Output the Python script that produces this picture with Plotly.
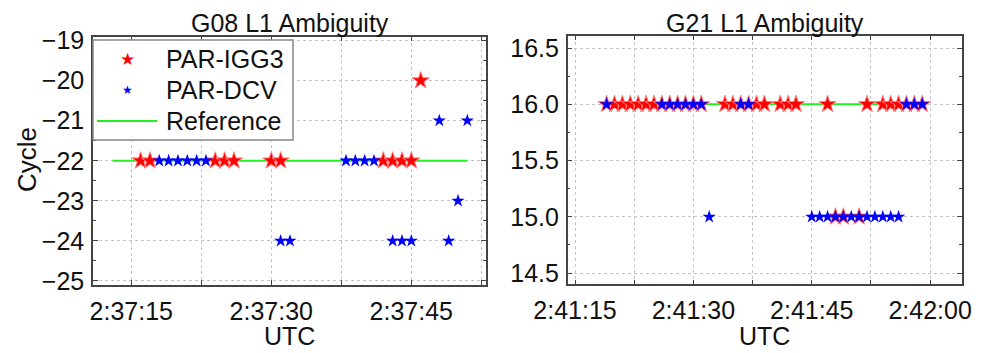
import plotly.graph_objects as go

# ---------------- data ----------------
# G08 (left panel)
g08_igg3_times = ["2:37:16", "2:37:17", "2:37:24", "2:37:25", "2:37:26",
                  "2:37:30", "2:37:31", "2:37:42", "2:37:43", "2:37:44",
                  "2:37:45", "2:37:46"]
g08_igg3_vals = [-22, -22, -22, -22, -22, -22, -22, -22, -22, -22, -22, -20]

g08_dcv_times = ["2:37:18", "2:37:19", "2:37:20", "2:37:21", "2:37:22", "2:37:23",
                 "2:37:31", "2:37:32", "2:37:38", "2:37:39", "2:37:40", "2:37:41",
                 "2:37:43", "2:37:44", "2:37:45", "2:37:48", "2:37:49", "2:37:50",
                 "2:37:51"]
g08_dcv_vals = [-22, -22, -22, -22, -22, -22,
                -24, -24, -22, -22, -22, -22,
                -24, -24, -24, -21, -24, -23, -21]

g08_ref_times = ["2:37:13", "2:37:51"]
g08_ref_vals = [-22, -22]

# G21 (right panel)
g21_igg3_times = ["2:41:19", "2:41:20", "2:41:21", "2:41:22", "2:41:23", "2:41:24",
                  "2:41:25", "2:41:26", "2:41:27", "2:41:28", "2:41:29", "2:41:30",
                  "2:41:31", "2:41:34", "2:41:35", "2:41:36", "2:41:37", "2:41:38",
                  "2:41:39", "2:41:41", "2:41:42", "2:41:43", "2:41:47", "2:41:48",
                  "2:41:49", "2:41:51", "2:41:52", "2:41:54", "2:41:55", "2:41:56",
                  "2:41:57", "2:41:58", "2:41:59"]
g21_igg3_vals = [16, 16, 16, 16, 16, 16,
                 16, 16, 16, 16, 16, 16,
                 16, 16, 16, 16, 16, 16,
                 16, 16, 16, 16, 16, 15,
                 15, 15, 16, 16, 16, 16,
                 16, 16, 16]

g21_dcv_times = ["2:41:19", "2:41:26", "2:41:27", "2:41:28", "2:41:29", "2:41:30",
                 "2:41:31", "2:41:32", "2:41:36", "2:41:37", "2:41:45", "2:41:46",
                 "2:41:47", "2:41:48", "2:41:49", "2:41:50", "2:41:51", "2:41:52",
                 "2:41:53", "2:41:54", "2:41:55", "2:41:56", "2:41:57", "2:41:58",
                 "2:41:59"]
g21_dcv_vals = [16, 16, 16, 16, 16, 16,
                16, 15, 16, 16, 15, 15,
                15, 15, 15, 15, 15, 15,
                15, 15, 15, 15, 16, 16,
                16]

g21_ref_times = ["2:41:19", "2:41:59"]
g21_ref_vals = [16, 16]

g08_xticks = ["2:37:15", "2:37:22.5", "2:37:30", "2:37:37.5", "2:37:45", "2:37:52.5"]
g21_xticks = ["2:41:15", "2:41:22.5", "2:41:30", "2:41:37.5", "2:41:45", "2:41:52.5", "2:42:00"]
g08_yticks = [-25, -24, -23, -22, -21, -20, -19]
g21_yticks = [14.5, 15.0, 15.5, 16.0, 16.5]

series_names = ["PAR-IGG3", "PAR-DCV", "Reference"]


def sec(t):
    h, m, s = t.split(":")
    return int(h) * 3600 + int(m) * 60 + float(s)


def label(t):
    return t if float(t.split(":")[2]).is_integer() else ""


FONT = "Arial, Liberation Sans, sans-serif"
RED = "#ff0000"
BLUE = "#0000ff"
GREEN = "#22ee22"
W, H = 987, 353
OFF = 8  # page body margin


def px(x):
    return (x - OFF) / W


def py(y):
    return 1 - (y - OFF) / H


fig = go.Figure()

# left panel traces
fig.add_trace(go.Scatter(x=[sec(t) for t in g08_ref_times], y=g08_ref_vals, mode="lines",
                         line=dict(color=GREEN, width=2), name=series_names[2],
                         xaxis="x", yaxis="y"))
fig.add_trace(go.Scatter(x=[sec(t) for t in g08_igg3_times], y=g08_igg3_vals, mode="markers",
                         marker=dict(symbol="star", size=13, color=RED,
                                     line=dict(width=1, color="#ff8080")),
                         name=series_names[0], xaxis="x", yaxis="y"))
fig.add_trace(go.Scatter(x=[sec(t) for t in g08_dcv_times], y=g08_dcv_vals, mode="markers",
                         marker=dict(symbol="star", size=10, color=BLUE, line=dict(width=0)),
                         name=series_names[1], xaxis="x", yaxis="y"))

# right panel traces
fig.add_trace(go.Scatter(x=[sec(t) for t in g21_ref_times], y=g21_ref_vals, mode="lines",
                         line=dict(color=GREEN, width=2), name=series_names[2],
                         xaxis="x2", yaxis="y2"))
fig.add_trace(go.Scatter(x=[sec(t) for t in g21_igg3_times], y=g21_igg3_vals, mode="markers",
                         marker=dict(symbol="star", size=13, color=RED,
                                     line=dict(width=1, color="#ff8080")),
                         name=series_names[0], xaxis="x2", yaxis="y2"))
fig.add_trace(go.Scatter(x=[sec(t) for t in g21_dcv_times], y=g21_dcv_vals, mode="markers",
                         marker=dict(symbol="star", size=10, color=BLUE, line=dict(width=0)),
                         name=series_names[1], xaxis="x2", yaxis="y2"))

axis_common = dict(
    showline=True, mirror="ticks", linecolor="#444", linewidth=1.5,
    ticks="inside", ticklen=5, tickcolor="#444", tickwidth=1,
    showgrid=True, gridcolor="#c4c4c4", griddash="dot", gridwidth=1,
    zeroline=False, automargin=False,
    tickfont=dict(family=FONT, size=25, color="#111"),
)

fig.update_layout(
    width=W, height=H,
    margin=dict(l=0, r=0, t=0, b=0, pad=0),
    paper_bgcolor="white", plot_bgcolor="white",
    font=dict(family=FONT, color="#111"),
    showlegend=False,
    xaxis=dict(axis_common, domain=[px(93), px(486)], anchor="y",
               range=[sec("2:37:10.9"), sec("2:37:53.0")],
               tickmode="array", tickvals=[sec(t) for t in g08_xticks],
               ticktext=[label(t) for t in g08_xticks], ticklabelstandoff=3),
    yaxis=dict(axis_common, domain=[py(285), py(36.5)], anchor="x",
               range=[-25.1, -18.9], tickmode="array", tickvals=g08_yticks,
               ticktext=[str(v).replace("-", "\u2212") for v in g08_yticks],
               ticklabelstandoff=2,
               minor=dict(dtick=0.5, ticks="inside", ticklen=3, tickcolor="#444", showgrid=False)),
    xaxis2=dict(axis_common, domain=[px(567.7), px(961.7)], anchor="y2",
                range=[sec("2:41:14.07"), sec("2:42:04")],
                tickmode="array", tickvals=[sec(t) for t in g21_xticks],
                ticktext=[label(t) for t in g21_xticks], ticklabelstandoff=3),
    yaxis2=dict(axis_common, domain=[py(284.3), py(35.7)], anchor="x2",
                range=[14.4, 16.61], tickmode="array", tickvals=g21_yticks,
                ticktext=[f"{v:.1f}" for v in g21_yticks], ticklabelstandoff=2,
                minor=dict(dtick=0.25, ticks="inside", ticklen=3, tickcolor="#444", showgrid=False)),
)

# legend box (drawn manually to match the compact original)
fig.add_shape(type="rect", xref="paper", yref="paper",
              x0=px(93), x1=px(293), y0=py(140), y1=py(40),
              fillcolor="white", line=dict(color="#888", width=1.5), layer="above")
fig.add_shape(type="line", xref="paper", yref="paper",
              x0=px(97), x1=px(157), y0=py(121), y1=py(121),
              line=dict(color=GREEN, width=2), layer="above")
fig.add_annotation(xref="paper", yref="paper", x=px(127.5), y=py(59), text="★",
                   showarrow=False, xanchor="center", yanchor="middle",
                   font=dict(family="DejaVu Sans", size=17, color=RED))
fig.add_annotation(xref="paper", yref="paper", x=px(127.5), y=py(90.5), text="★",
                   showarrow=False, xanchor="center", yanchor="middle",
                   font=dict(family="DejaVu Sans", size=12, color=BLUE))
for name, yy in zip(series_names, [59, 90.5, 121]):
    fig.add_annotation(xref="paper", yref="paper", x=px(164), y=py(yy), text=name,
                       showarrow=False, xanchor="left", yanchor="middle",
                       font=dict(family=FONT, size=25, color="#111"))

annots = [
    dict(text="G08 L1 Ambiguity", x=px(289.5), y=py(23), size=25),
    dict(text="G21 L1 Ambiguity", x=px(764.7), y=py(23), size=25),
    dict(text="UTC", x=px(289.5), y=py(336), size=25),
    dict(text="UTC", x=px(764.7), y=py(336), size=25),
]
for a in annots:
    fig.add_annotation(xref="paper", yref="paper", x=a["x"], y=a["y"], text=a["text"],
                       showarrow=False, xanchor="center", yanchor="middle", borderpad=0,
                       font=dict(family=FONT, size=a["size"], color="#111"))
fig.add_annotation(xref="paper", yref="paper", x=px(27), y=py(160), text="Cycle",
                   showarrow=False, textangle=-90, xanchor="center", yanchor="middle",
                   font=dict(family=FONT, size=26, color="#111"))

fig.write_html("out.html")
